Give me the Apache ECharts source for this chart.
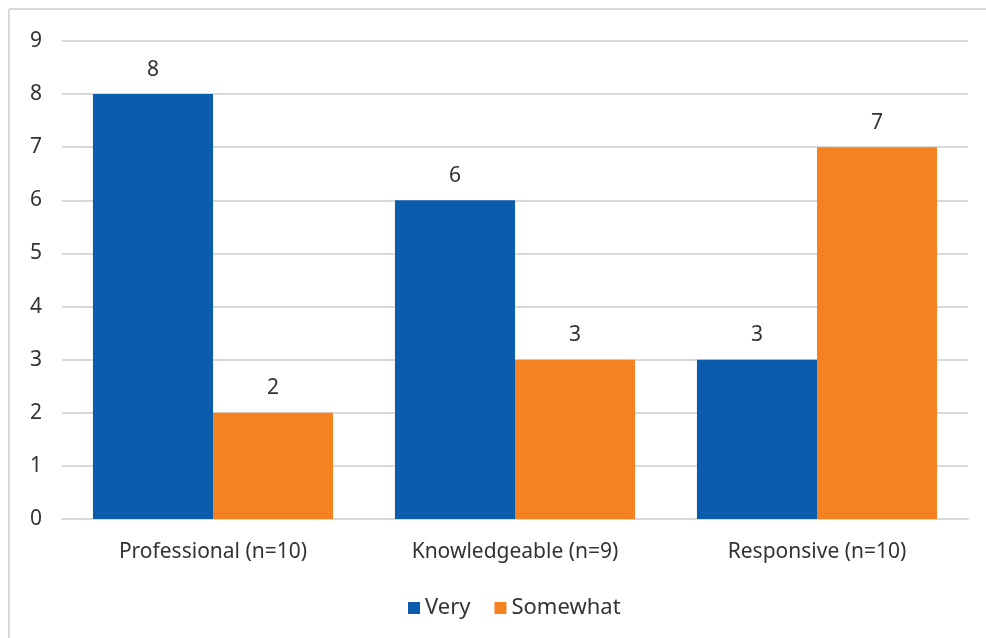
<!DOCTYPE html>
<html>
<head>
<meta charset="utf-8">
<script src="https://cdn.jsdelivr.net/npm/echarts@6/dist/echarts.min.js"></script>
<style>
  html, body { margin: 0; padding: 0; background: #ffffff; }
  #chart { width: 986px; height: 638px; }
</style>
</head>
<body>
<div id="chart"></div>
<script>
// Categories and counts per rating
const categories = ['Professional (n=10)', 'Knowledgeable (n=9)', 'Responsive (n=10)'];
const veryValues = [8, 6, 3];
const somewhatValues = [2, 3, 7];
const yTicks = [0, 1, 2, 3, 4, 5, 6, 7, 8, 9];

const FONT = '"Noto Sans", "Open Sans", sans-serif';
const TEXT = '#333333';
const SIZE = 21;

const chart = echarts.init(document.getElementById('chart'));

const labelStyle = {
  show: true,
  position: 'top',
  distance: 14,
  fontFamily: FONT,
  fontSize: SIZE,
  color: TEXT
};

chart.setOption({
  animation: false,
  backgroundColor: '#ffffff',
  graphic: [
    // Frame around the chart area (top and left edges)
    { type: 'line', shape: { x1: 9, y1: 9, x2: 986, y2: 9 }, style: { stroke: '#d9d9d9', lineWidth: 2 } },
    { type: 'line', shape: { x1: 9, y1: 9, x2: 9, y2: 638 }, style: { stroke: '#d9d9d9', lineWidth: 2 } }
  ],
  grid: { left: 62, right: 18, top: 41, bottom: 119, containLabel: false },
  legend: {
    top: 592,
    left: 403,
    itemWidth: 12,
    itemHeight: 12,
    itemGap: 24,
    icon: 'rect',
    textStyle: { fontFamily: FONT, fontSize: 22, color: TEXT },
    data: ['Very', 'Somewhat']
  },
  xAxis: {
    type: 'category',
    data: categories,
    axisLine: { show: true, lineStyle: { color: '#d9d9d9', width: 2 } },
    axisTick: { show: false },
    axisLabel: { fontFamily: FONT, fontSize: SIZE, color: TEXT, margin: 23 }
  },
  yAxis: {
    type: 'value',
    min: yTicks[0],
    max: yTicks[yTicks.length - 1],
    interval: 1,
    axisLine: { show: false },
    axisTick: { show: false },
    splitLine: { lineStyle: { color: '#d9d9d9', width: 2 } },
    axisLabel: { fontFamily: FONT, fontSize: SIZE, color: TEXT, margin: 20 }
  },
  series: [
    {
      name: 'Very',
      type: 'bar',
      data: veryValues,
      barGap: '0%',
      barCategoryGap: '20.5%',
      itemStyle: { color: '#0B5CAD' },
      label: labelStyle
    },
    {
      name: 'Somewhat',
      type: 'bar',
      data: somewhatValues,
      barGap: '0%',
      barCategoryGap: '20.5%',
      itemStyle: { color: '#F58220' },
      label: labelStyle
    }
  ]
});
</script>
</body>
</html>
